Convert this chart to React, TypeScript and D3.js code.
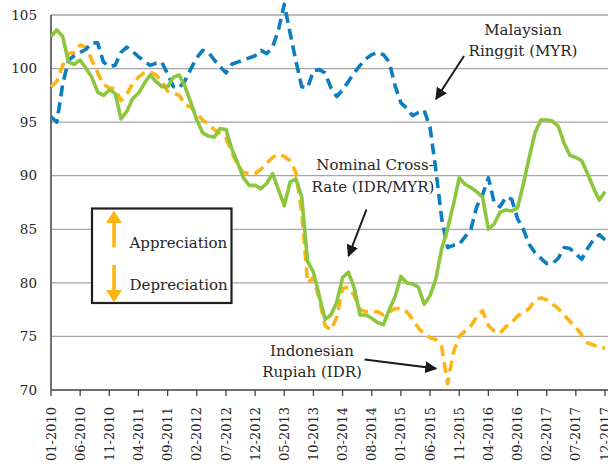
import React, { useEffect, useRef } from 'react';
import * as d3 from 'd3';

// Monthly index values, 01-2010 .. 12-2017 (96 months)
const tickLabels = [
  '01-2010', '06-2010', '11-2010', '04-2011', '09-2011', '02-2012', '07-2012',
  '12-2012', '05-2013', '10-2013', '03-2014', '08-2014', '01-2015', '06-2015',
  '11-2015', '04-2016', '09-2016', '02-2017', '07-2017', '12-2017',
];
const yTicks = [70, 75, 80, 85, 90, 95, 100, 105];

const crossRate = [
  103.0, 103.6, 103.0, 100.6, 100.4, 100.8, 100.0, 99.2, 97.8, 97.5,
  98.0, 97.7, 95.3, 96.0, 97.2, 97.7, 98.6, 99.4, 98.8, 98.3,
  98.3, 99.2, 99.4, 98.3, 96.8, 95.2, 94.0, 93.7, 93.6, 94.4,
  94.3, 92.5, 91.2, 89.8, 89.1, 89.1, 88.8, 89.3, 90.2, 88.7,
  87.2, 89.4, 89.7, 88.0, 82.0, 81.0, 78.8, 76.6, 77.0, 78.2,
  80.5, 81.0, 79.5, 77.0, 77.0, 76.7, 76.3, 76.1, 77.5, 78.7,
  80.6, 80.0, 79.9, 79.6, 78.0, 78.8, 80.4, 83.2, 85.0, 87.3,
  89.8, 89.2, 88.9, 88.5, 88.0, 85.0, 85.5, 86.6, 86.8, 86.7,
  87.0, 89.2, 91.7, 94.0, 95.2, 95.2, 95.1, 94.6, 93.0, 91.9,
  91.7, 91.4, 90.2, 88.9, 87.7, 88.5,
];

const myr = [
  95.5, 95.0, 98.5, 100.8, 101.2, 101.5, 101.8, 102.4, 102.4, 100.6,
  100.2, 100.3, 101.5, 102.0, 101.6, 101.1, 100.7, 100.3, 100.5, 100.6,
  99.5, 98.3, 98.2, 98.9, 100.0, 101.0, 101.7, 101.5, 100.8, 100.2,
  99.6, 100.4, 100.6, 100.8, 101.0, 101.2, 101.7, 101.4, 102.0, 103.6,
  106.0, 103.3, 100.7, 98.3, 98.2, 99.8, 99.9, 99.6, 98.2, 97.4,
  98.0, 98.8, 99.6, 100.3, 100.9, 101.3, 101.5, 101.3, 100.6, 98.4,
  96.8, 96.3, 95.6, 95.9, 96.1, 94.5, 90.5, 86.0, 83.3, 83.5,
  83.6, 84.3, 85.0, 87.1, 88.2, 89.8, 87.5, 87.1, 88.0, 87.8,
  86.0, 85.0, 83.6, 82.8, 82.3, 81.8, 81.8, 82.3, 83.3, 83.2,
  82.7, 82.2, 83.2, 84.0, 84.5, 84.0,
];

const idr = [
  98.3, 98.8, 100.3, 101.4, 101.5, 102.2, 102.0, 100.8, 99.6, 98.5,
  98.2, 98.1, 97.0, 97.6, 98.6, 99.2, 99.6, 99.7, 99.4, 98.8,
  97.9, 97.7, 97.5, 96.6, 96.4, 95.8, 95.2, 94.8, 94.3, 93.9,
  93.5, 92.2, 91.0, 90.3, 90.2, 90.2, 90.6, 91.2, 91.7, 92.0,
  91.8, 91.4, 90.3, 86.5, 80.0, 80.5, 78.5, 76.0, 75.6, 76.8,
  79.5, 79.6, 78.8, 77.5, 77.3, 77.3, 77.3, 77.0, 77.3, 77.6,
  77.6, 77.3, 76.6, 75.8, 75.2, 74.9, 74.7, 74.0, 70.6, 73.5,
  75.0, 75.5, 76.0, 76.8, 77.4, 76.0, 75.5, 75.3, 75.9, 76.3,
  76.9, 77.2, 77.6, 78.4, 78.6, 78.4, 78.0, 77.6, 77.0, 76.4,
  75.9, 75.1, 74.4, 74.2, 74.0, 73.9,
];

const series = [
  { name: 'Indonesian Rupiah (IDR)', values: idr, color: '#FDB515', dash: '11,6' },
  { name: 'Malaysian Ringgit (MYR)', values: myr, color: '#0C7DBF', dash: '11,6' },
  { name: 'Nominal Cross-Rate (IDR/MYR)', values: crossRate, color: '#8CC63F', dash: null },
];

const FONT = '"DejaVu Serif", "Liberation Serif", serif';
const TEXT_COLOR = '#262626';

export default function App() {
  const ref = useRef<SVGSVGElement | null>(null);
  const width = 608;
  const height = 469;
  const margin = { top: 15, right: 3, bottom: 79, left: 51 };

  useEffect(() => {
    if (!ref.current) return;
    const svg = d3.select(ref.current);
    svg.selectAll('*').remove();

    const n = crossRate.length;
    const x = d3.scaleLinear().domain([0, n - 1]).range([margin.left, width - margin.right]);
    const y = d3.scaleLinear().domain([70, 105]).range([height - margin.bottom, margin.top]);

    // gridlines
    svg.append('g')
      .selectAll('line')
      .data(yTicks.filter(t => t > 70))
      .enter()
      .append('line')
      .attr('x1', margin.left)
      .attr('x2', width)
      .attr('y1', d => y(d))
      .attr('y2', d => y(d))
      .attr('stroke', '#A6A6A6')
      .attr('stroke-width', 1.3);

    // y labels
    svg.append('g')
      .selectAll('text')
      .data(yTicks)
      .enter()
      .append('text')
      .attr('x', 37)
      .attr('y', d => y(d))
      .attr('dy', '0.35em')
      .attr('text-anchor', 'end')
      .style('font-family', FONT)
      .style('font-size', '13.5px')
      .style('fill', TEXT_COLOR)
      .text(d => d);

    // axes lines
    const y0 = y(70);
    svg.append('line')
      .attr('x1', margin.left).attr('x2', margin.left)
      .attr('y1', y(105)).attr('y2', y0)
      .attr('stroke', '#404040').attr('stroke-width', 1.5);
    svg.append('line')
      .attr('x1', margin.left).attr('x2', width)
      .attr('y1', y0).attr('y2', y0)
      .attr('stroke', '#404040').attr('stroke-width', 1.5);

    // x ticks + labels (every 5 months)
    const xTicks = tickLabels.map((label, k) => ({ label, i: k * 5 }));
    const xg = svg.append('g');
    xg.selectAll('line')
      .data(xTicks)
      .enter()
      .append('line')
      .attr('x1', d => x(d.i)).attr('x2', d => x(d.i))
      .attr('y1', y0).attr('y2', y0 + 6)
      .attr('stroke', '#404040').attr('stroke-width', 1.3);
    xg.selectAll('text')
      .data(xTicks)
      .enter()
      .append('text')
      .attr('transform', d => `translate(${x(d.i)},${y0 + 17}) rotate(-90)`)
      .attr('dy', '0.35em')
      .attr('text-anchor', 'end')
      .style('font-family', FONT)
      .style('font-size', '13px')
      .style('fill', TEXT_COLOR)
      .text(d => d.label);

    // series lines
    const line = d3.line<number>()
      .x((d, i) => x(i))
      .y(d => y(d));

    svg.append('g')
      .selectAll('path')
      .data(series)
      .enter()
      .append('path')
      .attr('d', d => line(d.values))
      .attr('fill', 'none')
      .attr('stroke', d => d.color)
      .attr('stroke-width', 3.6)
      .attr('stroke-dasharray', d => d.dash)
      .attr('stroke-linejoin', 'round');

    // annotation arrows
    const defs = svg.append('defs');
    defs.append('marker')
      .attr('id', 'head')
      .attr('viewBox', '0 0 10 10')
      .attr('refX', 9)
      .attr('refY', 5)
      .attr('markerWidth', 6)
      .attr('markerHeight', 6)
      .attr('markerUnits', 'strokeWidth')
      .attr('orient', 'auto')
      .append('path')
      .attr('d', 'M0,0 L10,5 L0,10 Z')
      .attr('fill', '#1a1a1a');

    const arrows = [
      [464, 56, 436, 99],
      [366.5, 209.5, 348.5, 256],
      [364.5, 359.5, 436, 368.5],
    ];
    svg.append('g')
      .selectAll('line')
      .data(arrows)
      .enter()
      .append('line')
      .attr('x1', d => d[0]).attr('y1', d => d[1])
      .attr('x2', d => d[2]).attr('y2', d => d[3])
      .attr('stroke', '#1a1a1a')
      .attr('stroke-width', 2)
      .attr('marker-end', 'url(#head)');

    const labels = [
      { text: 'Malaysian', x: 523, y: 29.5 },
      { text: 'Ringgit (MYR)', x: 523, y: 50.5 },
      { text: 'Nominal Cross-', x: 375, y: 165 },
      { text: 'Rate (IDR/MYR)', x: 373, y: 187 },
      { text: 'Indonesian', x: 312, y: 351 },
      { text: 'Rupiah (IDR)', x: 312, y: 372 },
    ];
    svg.append('g')
      .selectAll('text')
      .data(labels)
      .enter()
      .append('text')
      .attr('x', d => d.x)
      .attr('y', d => d.y)
      .attr('dy', '0.35em')
      .attr('text-anchor', 'middle')
      .style('font-family', FONT)
      .style('font-size', '15px')
      .style('fill', TEXT_COLOR)
      .text(d => d.text);

    // legend box with appreciation / depreciation arrows
    const lg = svg.append('g');
    lg.append('rect')
      .attr('x', 92).attr('y', 208.5)
      .attr('width', 139.5).attr('height', 94.5)
      .attr('fill', 'white')
      .attr('stroke', '#1f1f1f')
      .attr('stroke-width', 2.2);
    const ax = 114;
    const orange = '#FDB515';
    lg.append('path')
      .attr('d', `M${ax},210.5 L${ax + 8},223 L${ax - 8},223 Z`)
      .attr('fill', orange);
    lg.append('rect')
      .attr('x', ax - 1.8).attr('y', 222).attr('width', 3.6).attr('height', 25.5)
      .attr('fill', orange);
    lg.append('rect')
      .attr('x', ax - 1.8).attr('y', 265).attr('width', 3.6).attr('height', 26)
      .attr('fill', orange);
    lg.append('path')
      .attr('d', `M${ax},302.5 L${ax + 8},290 L${ax - 8},290 Z`)
      .attr('fill', orange);
    lg.selectAll('text.lbl')
      .data([{ t: 'Appreciation', y: 242.5 }, { t: 'Depreciation', y: 285 }])
      .enter()
      .append('text')
      .attr('class', 'lbl')
      .attr('x', 129.5)
      .attr('y', d => d.y)
      .attr('dy', '0.35em')
      .style('font-family', FONT)
      .style('font-size', '15px')
      .style('fill', TEXT_COLOR)
      .text(d => d.t);
  }, []);

  return (
    <div style={{ position: 'absolute', left: 0, top: 0, width, height, background: 'white' }}>
      <svg ref={ref} width={width} height={height} />
    </div>
  );
}
